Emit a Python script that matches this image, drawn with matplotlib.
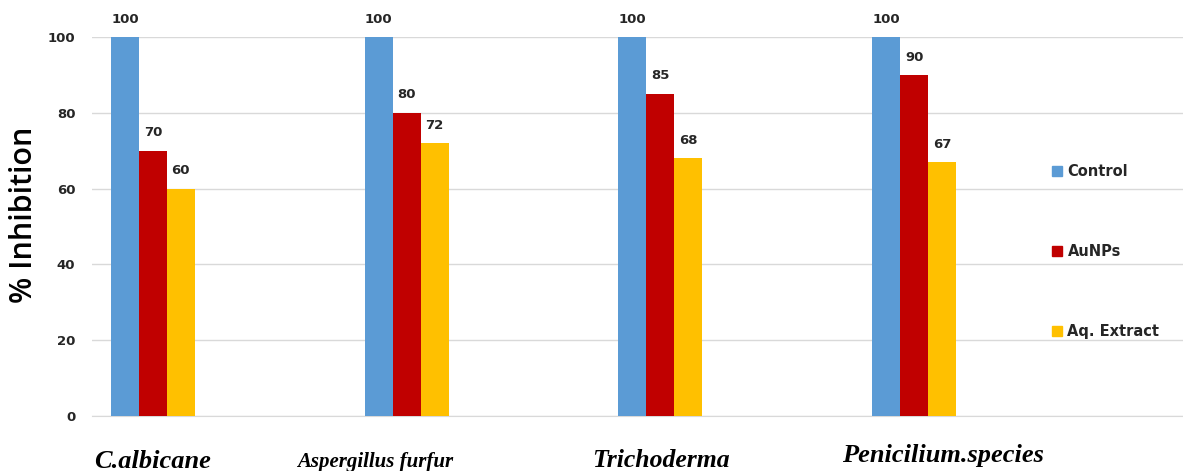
import matplotlib.pyplot as plt
from matplotlib.patches import Patch

species = ['C.albicane', 'Aspergillus furfur', 'Trichoderma', 'Penicilium.species']
control = [100, 100, 100, 100]
aunps = [70, 80, 85, 90]
aq_extract = [60, 72, 68, 67]
series_names = ['Control', 'AuNPs', 'Aq. Extract']
colors = ['#5B9BD5', '#C00000', '#FFC000']

fig = plt.figure(figsize=(11.83, 4.71), dpi=100)
ax = fig.add_axes([0.0778, 0.1168, 0.9222, 0.8046])

w = 0.11
x = list(range(len(species)))
for k, vals in enumerate([control, aunps, aq_extract]):
    pos = [i + (k - 1) * w for i in x]
    bars = ax.bar(pos, vals, width=w, color=colors[k], zorder=3)
    for b, v in zip(bars, vals):
        ax.text(b.get_x() + b.get_width() / 2, v + 3, str(v), ha='center', va='bottom',
                fontsize=9.5, fontweight='bold', color='#262626', clip_on=False)

ax.set_xlim(-0.24, 4.06)
ax.set_ylim(0, 100)
ax.set_yticks([0, 20, 40, 60, 80, 100])
ax.tick_params(axis='y', length=0, pad=12, labelsize=9.5)
for t in ax.get_yticklabels():
    t.set_fontweight('bold')
    t.set_color('#262626')
ax.yaxis.grid(True, color='#D9D9D9', linewidth=1, zorder=0)
ax.set_xticks([])
for s in ['top', 'right', 'left']:
    ax.spines[s].set_visible(False)
ax.spines['bottom'].set_color('#D9D9D9')

ax.set_ylabel('% Inhibition', fontsize=22, family='Open Sans', fontweight='semibold')
ax.yaxis.set_label_coords(-0.049, 0.53)

# species names under the groups (hand placed in the original)
label_dx = [0.0, -0.126, 0.004, 0.114]
label_y = [-0.137, -0.135, -0.135, -0.121]
label_size = [19, 15, 18.5, 19]
for i, name in enumerate(species):
    ax.text(i + label_dx[i], label_y[i], name, transform=ax.get_xaxis_transform(),
            ha='center', va='baseline', fontsize=label_size[i], family='Liberation Serif',
            fontweight='bold', style='italic')

handles = [Patch(color=c, label=n) for c, n in zip(colors, series_names)]
leg = ax.legend(handles=handles, loc='upper left', bbox_to_anchor=(0.868, 0.699),
                frameon=False, labelspacing=4.46, handlelength=0.65, handleheight=0.65,
                handletextpad=0.4, prop={'weight': 'bold', 'size': 10.5})
for t in leg.get_texts():
    t.set_color('#262626')

fig.savefig('out.png', dpi=100)
